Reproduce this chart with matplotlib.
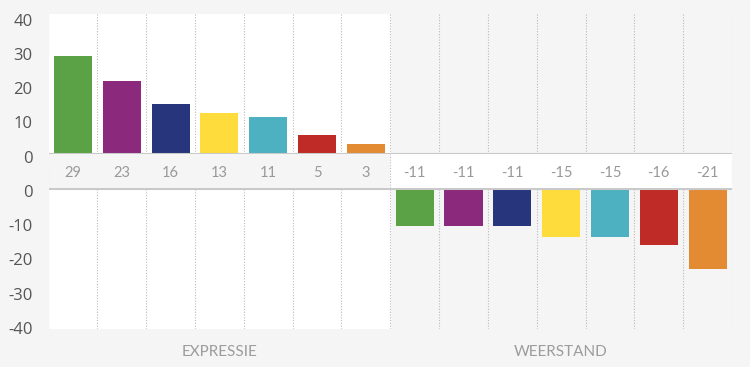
import matplotlib
matplotlib.use('Agg')
import matplotlib.pyplot as plt
import matplotlib.transforms as mtransforms
import numpy as np

plt.rcParams['axes.unicode_minus'] = False

# data
groups        = ['EXPRESSIE', 'WEERSTAND']
colors        = ['#5aa245', '#8b2a7c', '#27367c', '#fddc3b', '#4db1c1', '#bf2c27', '#e38b33']
expressie     = [28.7, 21.5, 14.6, 12.0, 10.9, 5.5, 3.1]
weerstand     = [-11.0, -11.0, -11.0, -14.1, -14.1, -16.5, -23.4]
expr_labels   = ['29', '23', '16', '13', '11', '5', '3']
weer_labels   = ['-11', '-11', '-11', '-15', '-15', '-16', '-21']
top_ticks     = [0, 10, 20, 30, 40]
bottom_ticks  = [0, -10, -20, -30, -40]

BG     = '#f5f5f5'
GRID   = '#bababa'
ZERO   = '#c9c9c9'
n      = len(expressie)
x_expr = np.arange(n)
x_weer = np.arange(n) + n
xlim   = (-0.5, 2 * n - 0.5)

fig = plt.figure(figsize=(7.5, 3.67), dpi=100, facecolor=BG)

W, H   = 750.0, 367.0
left   = 48.5 / W
width  = (732 - 48.5) / W
ax_top = fig.add_axes([left, (H - 154.3) / H, width, 140.3 / H])
band   = fig.add_axes([left, (H - 188.3) / H, width, 34.0 / H])
ax_bot = fig.add_axes([left, (H - 329.0) / H, width, 140.7 / H])

label_shift = mtransforms.ScaledTranslation(0, -2.3 / 100, fig.dpi_scale_trans)

for ax, ticks, lim in [(ax_top, top_ticks, (0, 41)), (ax_bot, bottom_ticks, (-41, 0))]:
    ax.set_facecolor(BG)
    ax.axvspan(-0.5, n - 0.5, color='white', zorder=0)
    for b in np.arange(2 * n + 1) - 0.5:
        ax.axvline(b, color=GRID, linestyle=(0, (1, 1.5)), linewidth=0.8, zorder=1)
    ax.axhline(0, color=ZERO, linewidth=2.2, zorder=4)
    ax.set_xlim(*xlim)
    ax.set_ylim(*lim)
    ax.set_xticks([])
    ax.set_yticks(ticks)
    ax.tick_params(axis='y', length=0, pad=11.5, labelsize=12, labelcolor='#555555')
    for lbl in ax.get_yticklabels():
        lbl.set_fontfamily(['Open Sans', 'DejaVu Sans'])
        lbl.set_transform(lbl.get_transform() + label_shift)
    for s in ax.spines.values():
        s.set_visible(False)

ax_top.bar(x_expr, expressie, width=0.78, color=colors, zorder=3)
ax_bot.bar(x_weer, weerstand, width=0.78, color=colors, zorder=3)

# value band in the middle
band.set_facecolor(BG)
band.axvspan(n - 0.5, 2 * n - 0.5, color='white', zorder=0)
for b in [-0.5, n - 0.5, 2 * n - 0.5]:
    band.axvline(b, color=GRID, linestyle=(0, (1, 1.5)), linewidth=0.8)
band.set_xlim(*xlim)
band.set_ylim(0, 1)
band.set_xticks([])
band.set_yticks([])
for s in band.spines.values():
    s.set_visible(False)
for xi, t in zip(np.concatenate([x_expr, x_weer]), expr_labels + weer_labels):
    band.text(xi, 0.45, t, ha='center', va='center', fontsize=10.5,
              color='#999999', family=['Lato', 'DejaVu Sans'])

# group names under the chart
name_trans = mtransforms.blended_transform_factory(ax_bot.transData, fig.transFigure)
for i, g in enumerate(groups):
    ax_bot.text(i * n + (n - 1) / 2, (H - 352) / H, g, ha='center', va='center',
                transform=name_trans, fontsize=11,
                color='#9c9c9c', family=['Lato', 'DejaVu Sans'])

fig.savefig('out.png', dpi=100, facecolor=BG)
